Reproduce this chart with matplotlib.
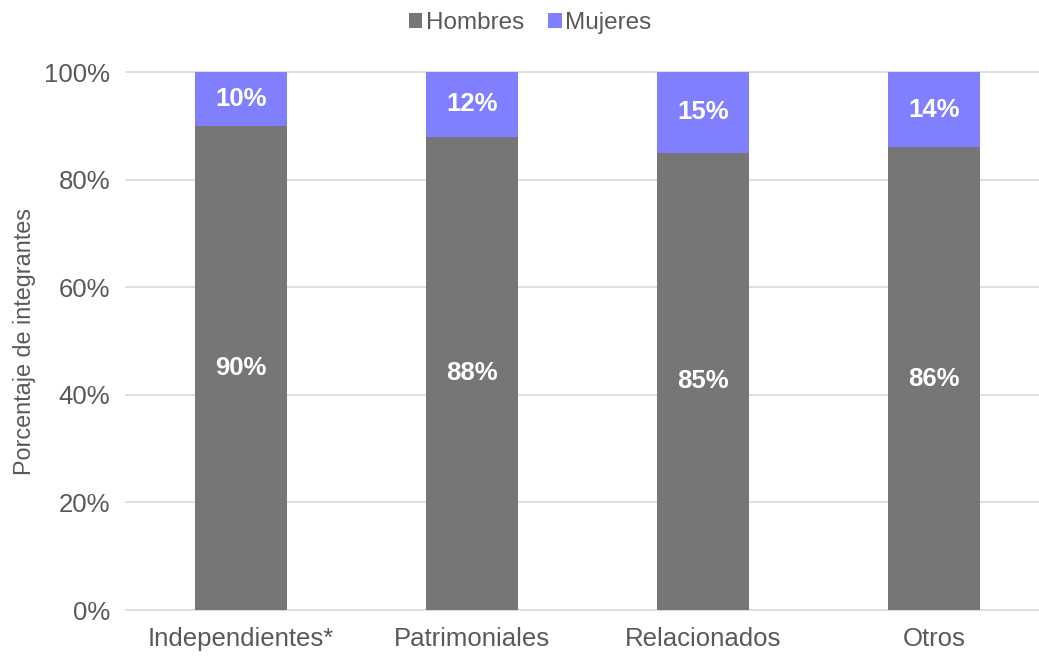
import numpy as np
import matplotlib.pyplot as plt

plt.rcParams['font.family'] = ['Liberation Sans', 'DejaVu Sans']

categorias = ['Independientes*', 'Patrimoniales', 'Relacionados', 'Otros']
hombres = [90, 88, 85, 86]
mujeres = [10, 12, 15, 14]

color_h = '#767676'
color_m = '#7F7FFF'
texto = '#595959'

fig = plt.figure(figsize=(10.39, 6.56), dpi=100)
ax = fig.add_axes([126 / 1039, 46 / 656, (1039 - 126) / 1039, (610 - 72) / 656])

x = np.arange(len(categorias))
ancho = 0.40
bh = ax.bar(x, hombres, ancho, color=color_h, label='Hombres', zorder=3)
bm = ax.bar(x, mujeres, ancho, bottom=hombres, color=color_m, label='Mujeres', zorder=3)

# etiquetas blancas dentro de las barras
for i in range(len(categorias)):
    ax.text(x[i], hombres[i] / 2, f'{hombres[i]}%', ha='center', va='center',
            color='white', fontsize=18.5, fontweight='bold', zorder=4)
    ax.text(x[i], hombres[i] + mujeres[i] / 2, f'{mujeres[i]}%', ha='center', va='center',
            color='white', fontsize=18.5, fontweight='bold', zorder=4)

ax.set_xlim((126 - 241) / 231, (1039 - 241) / 231)
ax.set_ylim(0, 100)
ax.set_yticks(np.arange(0, 101, 20))
ax.set_yticklabels([f'{v}%' for v in range(0, 101, 20)])
ax.set_xticks(x)
ax.set_xticklabels(categorias)
ax.tick_params(axis='both', length=0, labelsize=18.5, colors=texto)
ax.tick_params(axis='y', pad=11.5)
ax.tick_params(axis='x', pad=12)
ax.grid(axis='y', color='#D9D9D9', linewidth=1.2, zorder=0)
ax.set_axisbelow(True)
for s in ax.spines.values():
    s.set_visible(False)
for gl in ax.get_ygridlines():
    gl.set_clip_on(False)

ax.set_ylabel('Porcentaje de integrantes', fontsize=16.8, color=texto, labelpad=6)

fig.legend(handles=[bh, bm], labels=['Hombres', 'Mujeres'], loc='upper center',
           bbox_to_anchor=(530 / 1039, 1.015), ncol=2, frameon=False, fontsize=17.5,
           handlelength=0.55, handleheight=0.55, handletextpad=0.15, columnspacing=1.0,
           labelcolor=texto)

fig.savefig('out.png', dpi=100)
